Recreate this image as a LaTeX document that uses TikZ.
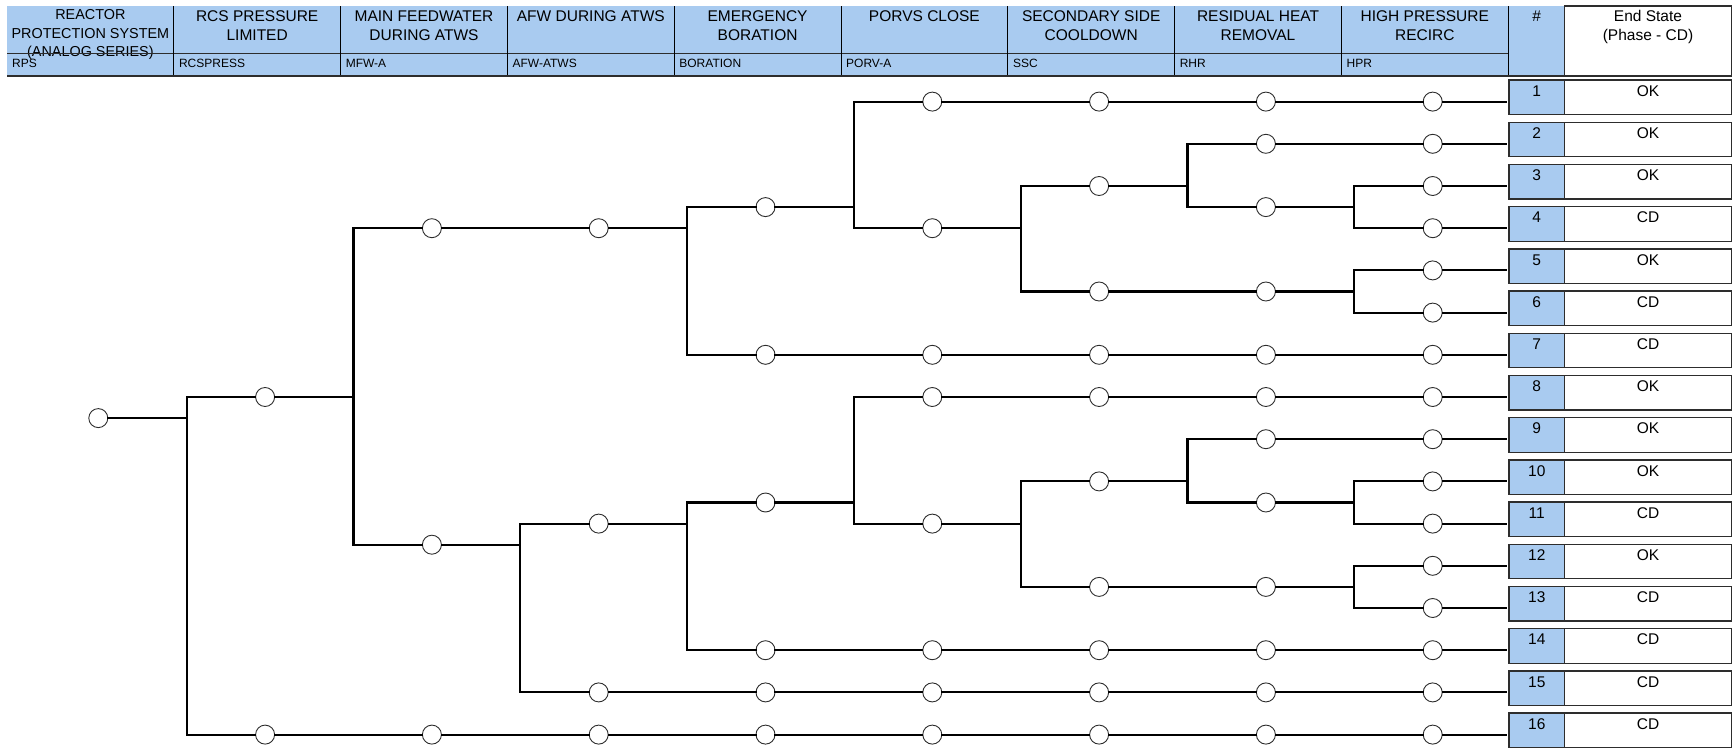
\documentclass[tikz,border=0pt]{standalone}
\usepackage{fontspec}
\setmainfont{Liberation Sans}
\definecolor{hdrblue}{RGB}{169,203,240}
\definecolor{linegray}{RGB}{45,45,45}
\newcommand\evrow[3]{%
  \foreach \k in {#2,...,8}{\node[ev] (r#1c\k) at (\k,#1) {};}
  \coordinate (r#1e) at (8.439,#1);
  \draw[br] (#3) -- (r#1c#2);
  \foreach \k in {#2,...,7}{\pgfmathtruncatemacro\nxk{\k+1}\draw[br] (r#1c\k) -- (r#1c\nxk);}
  \draw[br] (r#1c8) -- (r#1e);
}
\newcommand\evlast[2]{%
  \node[ev] (r#1c8) at (8,#1) {};
  \coordinate (r#1e) at (8.439,#1);
  \draw[br] (#2) -- (r#1c8) -- (r#1e);
}
\begin{document}
\begin{tikzpicture}[x=1pt,y=-1pt,
  ev/.style={circle,draw=linegray,line width=0.9pt,fill=white,minimum size=19pt,inner sep=0pt},
  br/.style={line width=2.1pt,black,line cap=rect},
  hsep/.style={line width=0.9pt,black},
  boxline/.style={line width=1.3pt,linegray},
  htitle/.style={font=\fontsize{15.5}{18.6}\selectfont,align=center,anchor=north,inner sep=0pt},
  hsub/.style={font=\fontsize{12}{13}\selectfont,anchor=base west,inner sep=0pt},
  boxtxt/.style={font=\fontsize{15.5}{18}\selectfont,inner sep=0pt}]
\useasboundingbox (0,0) rectangle (1732,747);
% ---------------- header ----------------
\fill[hdrblue] (7,6) rectangle (1564.5,76);
\fill[white] (1564.5,6) rectangle (1731.5,76);
\node[htitle,font=\fontsize{14.4}{18.6}\selectfont] (h1) at (90.4,9.5) {REACTOR\\PROTECTION SYSTEM\\(ANALOG SERIES)};
\node[htitle] (h2) at (257.2,10.8) {RCS PRESSURE\\LIMITED};
\node[htitle] (h3) at (424,10.8) {MAIN FEEDWATER\\DURING ATWS};
\node[htitle] (h4) at (590.8,10.8) {AFW DURING ATWS};
\node[htitle] (h5) at (757.6,10.8) {EMERGENCY\\BORATION};
\node[htitle] (h6) at (924.4,10.8) {PORVS CLOSE};
\node[htitle] (h7) at (1091.2,10.8) {SECONDARY SIDE\\COOLDOWN};
\node[htitle] (h8) at (1258,10.8) {RESIDUAL HEAT\\REMOVAL};
\node[htitle] (h9) at (1424.8,10.8) {HIGH PRESSURE\\RECIRC};
\node[htitle] (h10) at (1536.75,10.8) {\#};
\node[htitle] (h11) at (1648,10.5) {End State\\(Phase - CD)};
\node[hsub] (s1) at (12,67) {RPS};
\node[hsub] (s2) at (178.8,67) {RCSPRESS};
\node[hsub] (s3) at (345.6,67) {MFW-A};
\node[hsub] (s4) at (512.4,67) {AFW-ATWS};
\node[hsub] (s5) at (679.2,67) {BORATION};
\node[hsub] (s6) at (846,67) {PORV-A};
\node[hsub] (s7) at (1012.8,67) {SSC};
\node[hsub] (s8) at (1179.6,67) {RHR};
\node[hsub] (s9) at (1346.4,67) {HPR};
\draw[hsep,linegray] (7,53) -- (1508.2,53);
\foreach \xx in {173.8,340.6,507.4,674.2,841,1007.8,1174.6,1341.4,1508.2}
  \draw[hsep] (\xx,6) -- (\xx,76);
\draw[boxline] (1564.5,6) rectangle (1731.5,76);
\draw[line width=2.4pt,linegray] (7,76) -- (1564.5,76);
% ---------------- end states ----------------
\foreach \r/\s in {1/OK,2/OK,3/OK,4/CD,5/OK,6/CD,7/CD,8/OK,9/OK,10/OK,11/CD,12/OK,13/CD,14/CD,15/CD,16/CD}{
  \pgfmathsetmacro\yy{101.6+42.2*(\r-1)}
  \fill[hdrblue] (1509,{\yy-21.5}) rectangle (1564.5,{\yy+13});
  \draw[boxline] (1509,{\yy-21.5}) rectangle (1731.5,{\yy+13});
  \draw[boxline] (1564.5,{\yy-21.5}) -- (1564.5,{\yy+13});
  \node[boxtxt] (num\r) at (1536.75,{\yy-10.6}) {\r};
  \node[boxtxt] (es\r) at (1648,{\yy-10.6}) {\s};
}
% ---------------- event tree ----------------
\begin{scope}[shift={(98.3pt,-59.4pt)},x=166.8pt,y=-42.2pt]
\node[ev] (ie) at (0,8.5) {};
\coordinate (j0) at (0.53,8.5);
\coordinate (j0u) at (0.53,8);
\coordinate (j0d) at (0.53,16);
\draw[br] (ie) -- (j0);
\draw[br] (j0u) -- (j0d);
\evrow{16}{1}{j0d}
% RCS pressure limited
\node[ev] (a1) at (1,8) {};
\coordinate (j1) at (1.53,8);
\coordinate (j1u) at (1.53,4);
\coordinate (j1d) at (1.53,11.5);
\draw[br] (j0u) -- (a1) -- (j1);
\draw[br] (j1u) -- (j1d);
% MFW success
\node[ev] (a2) at (2,4) {};
\node[ev] (a3) at (3,4) {};
\coordinate (j3) at (3.53,4);
\coordinate (j3u) at (3.53,3.5);
\coordinate (j3d) at (3.53,7);
\draw[br] (j1u) -- (a2) -- (a3) -- (j3);
\draw[br] (j3u) -- (j3d);
\evrow{7}{4}{j3d}
\node[ev] (a4) at (4,3.5) {};
\coordinate (j4) at (4.53,3.5);
\coordinate (j4u) at (4.53,1);
\coordinate (j4d) at (4.53,4);
\draw[br] (j3u) -- (a4) -- (j4);
\draw[br] (j4u) -- (j4d);
\evrow{1}{5}{j4u}
\node[ev] (a5) at (5,4) {};
\coordinate (j5) at (5.53,4);
\coordinate (j5u) at (5.53,3);
\coordinate (j5d) at (5.53,5.5);
\draw[br] (j4d) -- (a5) -- (j5);
\draw[br] (j5u) -- (j5d);
\node[ev] (a6) at (6,3) {};
\coordinate (j6) at (6.53,3);
\coordinate (j6u) at (6.53,2);
\coordinate (j6d) at (6.53,3.5);
\draw[br] (j5u) -- (a6) -- (j6);
\draw[br] (j6u) -- (j6d);
\evrow{2}{7}{j6u}
\node[ev] (a7) at (7,3.5) {};
\coordinate (j7) at (7.53,3.5);
\coordinate (j7u) at (7.53,3);
\coordinate (j7d) at (7.53,4);
\draw[br] (j6d) -- (a7) -- (j7);
\draw[br] (j7u) -- (j7d);
\evlast{3}{j7u}
\evlast{4}{j7d}
\node[ev] (b6) at (6,5.5) {};
\node[ev] (b7) at (7,5.5) {};
\coordinate (k7) at (7.53,5.5);
\coordinate (k7u) at (7.53,5);
\coordinate (k7d) at (7.53,6);
\draw[br] (j5d) -- (b6) -- (b7) -- (k7);
\draw[br] (k7u) -- (k7d);
\evlast{5}{k7u}
\evlast{6}{k7d}
% MFW failure
\node[ev] (c2) at (2,11.5) {};
\coordinate (m2) at (2.53,11.5);
\coordinate (m2u) at (2.53,11);
\coordinate (m2d) at (2.53,15);
\draw[br] (j1d) -- (c2) -- (m2);
\draw[br] (m2u) -- (m2d);
\evrow{15}{3}{m2d}
\node[ev] (c3) at (3,11) {};
\coordinate (m3) at (3.53,11);
\coordinate (m3u) at (3.53,10.5);
\coordinate (m3d) at (3.53,14);
\draw[br] (m2u) -- (c3) -- (m3);
\draw[br] (m3u) -- (m3d);
\evrow{14}{4}{m3d}
\node[ev] (c4) at (4,10.5) {};
\coordinate (m4) at (4.53,10.5);
\coordinate (m4u) at (4.53,8);
\coordinate (m4d) at (4.53,11);
\draw[br] (m3u) -- (c4) -- (m4);
\draw[br] (m4u) -- (m4d);
\evrow{8}{5}{m4u}
\node[ev] (c5) at (5,11) {};
\coordinate (m5) at (5.53,11);
\coordinate (m5u) at (5.53,10);
\coordinate (m5d) at (5.53,12.5);
\draw[br] (m4d) -- (c5) -- (m5);
\draw[br] (m5u) -- (m5d);
\node[ev] (c6) at (6,10) {};
\coordinate (m6) at (6.53,10);
\coordinate (m6u) at (6.53,9);
\coordinate (m6d) at (6.53,10.5);
\draw[br] (m5u) -- (c6) -- (m6);
\draw[br] (m6u) -- (m6d);
\evrow{9}{7}{m6u}
\node[ev] (c7) at (7,10.5) {};
\coordinate (m7) at (7.53,10.5);
\coordinate (m7u) at (7.53,10);
\coordinate (m7d) at (7.53,11);
\draw[br] (m6d) -- (c7) -- (m7);
\draw[br] (m7u) -- (m7d);
\evlast{10}{m7u}
\evlast{11}{m7d}
\node[ev] (d6) at (6,12.5) {};
\node[ev] (d7) at (7,12.5) {};
\coordinate (n7) at (7.53,12.5);
\coordinate (n7u) at (7.53,12);
\coordinate (n7d) at (7.53,13);
\draw[br] (m5d) -- (d6) -- (d7) -- (n7);
\draw[br] (n7u) -- (n7d);
\evlast{12}{n7u}
\evlast{13}{n7d}
\end{scope}
\end{tikzpicture}
\end{document}
